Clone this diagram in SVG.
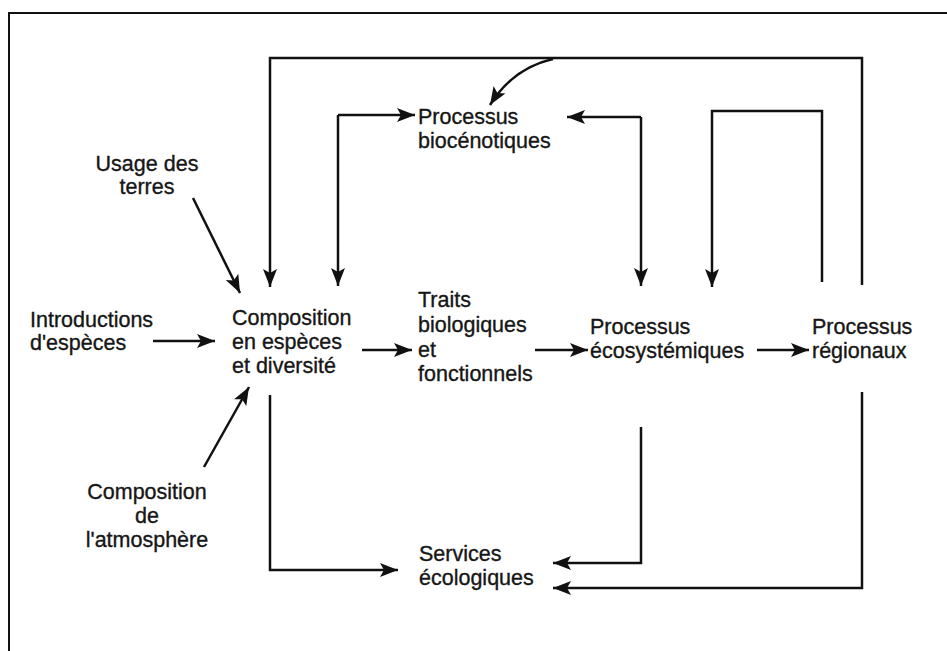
<svg xmlns="http://www.w3.org/2000/svg" width="947" height="651" viewBox="0 0 947 651">
<defs>
<style>
text{font-family:"Liberation Sans",Arial,sans-serif;font-size:21.5px;fill:#161616;stroke:#161616;stroke-width:0.35px}
.c{text-anchor:middle}
.ln{fill:none;stroke:#111;stroke-width:2.5}
.ar{marker-end:url(#ah)}
</style>
<marker id="ah" markerUnits="userSpaceOnUse" markerWidth="20" markerHeight="16" refX="18" refY="8" orient="auto">
<path d="M0,1 L18,8 L0,15 L4,8 z" fill="#111"/>
</marker>
</defs>
<rect width="947" height="651" fill="#fff"/>
<path d="M9,651 V13 H947" fill="none" stroke="#111" stroke-width="2"/>

<g id="connectors">
<path class="ln ar" d="M862,285 V58 H270 V287"/>
<path class="ln ar" d="M553,59 Q513,68 490,105"/>
<path class="ln ar" d="M338,115 H415"/>
<path class="ln ar" d="M338,115 V286"/>
<path class="ln ar" d="M641,117 H567"/>
<path class="ln ar" d="M641,117 V286"/>
<path class="ln ar" d="M822,282 V111 H712 V287"/>
<path class="ln ar" d="M153,341 H215"/>
<path class="ln ar" d="M362,350 H412"/>
<path class="ln ar" d="M535,350 H588"/>
<path class="ln ar" d="M757,350 H809"/>
<path class="ln ar" d="M193,198 L240,293"/>
<path class="ln ar" d="M204,467 L249,387"/>
<path class="ln ar" d="M270,395 V570 H398"/>
<path class="ln ar" d="M641,427 V563 H553"/>
<path class="ln ar" d="M862,392 V588 H553"/>
</g>

<g id="usage"><text class="c" x="147" y="171">Usage des</text><text class="c" x="147" y="194">terres</text></g>
<g id="introductions"><text x="30" y="327">Introductions</text><text x="30" y="350">d'espèces</text></g>
<g id="atmosphere"><text class="c" x="147" y="499">Composition</text><text class="c" x="147" y="523">de</text><text class="c" x="147" y="547">l'atmosphère</text></g>
<g id="composition"><text x="232" y="325">Composition</text><text x="232" y="349">en espèces</text><text x="232" y="373">et diversité</text></g>
<g id="biocenotiques"><text x="418" y="124">Processus</text><text x="418" y="148">biocénotiques</text></g>
<g id="traits"><text x="418" y="307">Traits</text><text x="418" y="332">biologiques</text><text x="418" y="357">et</text><text x="418" y="381">fonctionnels</text></g>
<g id="ecosystemiques"><text x="590" y="334">Processus</text><text x="590" y="358">écosystémiques</text></g>
<g id="regionaux"><text x="812" y="334">Processus</text><text x="812" y="358">régionaux</text></g>
<g id="services"><text x="419" y="561">Services</text><text x="419" y="585">écologiques</text></g>
</svg>
